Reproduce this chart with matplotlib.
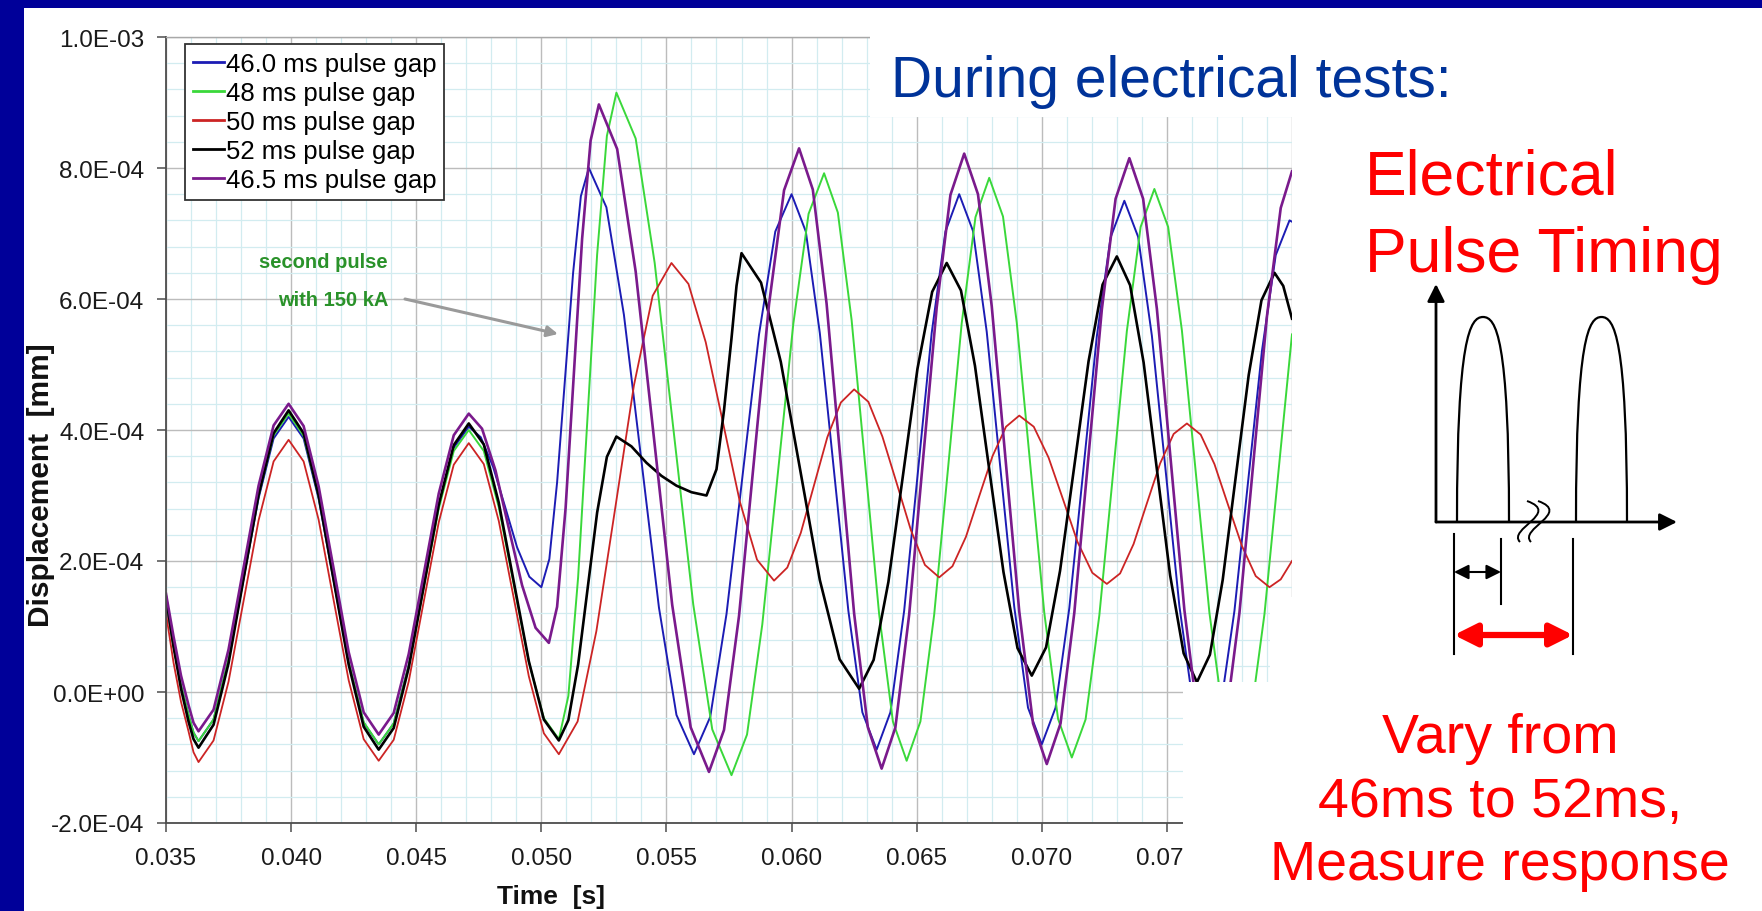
import matplotlib
matplotlib.use("Agg")
import matplotlib.pyplot as plt
from matplotlib.patches import Rectangle, FancyArrowPatch, PathPatch
from matplotlib.path import Path
from matplotlib.ticker import FixedLocator, MultipleLocator
import numpy as np

plt.rcParams['font.family'] = ['Liberation Sans', 'DejaVu Sans']

# ---------------- data (displacement values in units of 1e-4 mm) ----------------
VALUE_UNIT = 1e-4

t_blue = [0.0350, 0.0353, 0.0356, 0.0359, 0.0361, 0.0363,
          0.0369, 0.0375, 0.0381, 0.0387, 0.0393, 0.0399,
          0.0405, 0.0411, 0.0417, 0.0423, 0.0429, 0.0435,
          0.0441, 0.0447, 0.0453, 0.0459, 0.0465, 0.0471,
          0.04758, 0.04807, 0.04855, 0.04903, 0.04952, 0.0500,
          0.05032, 0.05063, 0.05095, 0.05127, 0.05158, 0.0519,
          0.0526, 0.0533, 0.0540, 0.0547, 0.0554, 0.0561,
          0.05675, 0.0574, 0.05805, 0.0587, 0.05935, 0.0600,
          0.06057, 0.06113, 0.0617, 0.06227, 0.06283, 0.0634,
          0.06395, 0.0645, 0.06505, 0.0656, 0.06615, 0.0667,
          0.06725, 0.0678, 0.06835, 0.0689, 0.06945, 0.0700,
          0.07055, 0.0711, 0.07165, 0.0722, 0.07275, 0.0733,
          0.07385, 0.0744, 0.07495, 0.0755, 0.07605, 0.0766,
          0.07715, 0.0777, 0.07825, 0.0788, 0.07935, 0.0799, 0.0800]
v_blue = [1.35, 0.7, 0.1, -0.35, -0.62, -0.75,
          -0.42, 0.49, 1.73, 2.96, 3.87, 4.2,
          3.87, 2.95, 1.7, 0.45, -0.47, -0.8,
          -0.48, 0.41, 1.63, 2.84, 3.73, 4.05,
          3.89, 3.44, 2.83, 2.21, 1.76, 1.6,
          2.03, 3.2, 4.8, 6.4, 7.57, 8.0,
          7.4, 5.76, 3.53, 1.29, -0.35, -0.95,
          -0.38, 1.19, 3.33, 5.46, 7.03, 7.6,
          7.03, 5.48, 3.36, 1.24, -0.31, -0.88,
          -0.31, 1.24, 3.36, 5.48, 7.03, 7.6,
          7.04, 5.5, 3.4, 1.3, -0.24, -0.8,
          -0.24, 1.28, 3.35, 5.43, 6.94, 7.5,
          6.95, 5.44, 3.38, 1.31, -0.2, -0.75,
          -0.22, 1.24, 3.23, 5.21, 6.67, 7.2, 7.18]

t_green = [0.0350, 0.0353, 0.0356, 0.0359, 0.0361, 0.0363,
           0.0369, 0.0375, 0.0381, 0.0387, 0.0393, 0.0399,
           0.0405, 0.0411, 0.0417, 0.0423, 0.0429, 0.0435,
           0.0441, 0.0447, 0.0453, 0.0459, 0.0465, 0.0471,
           0.0477, 0.0483, 0.0489, 0.0495, 0.0501, 0.0507,
           0.05108, 0.05147, 0.05185, 0.05223, 0.05262, 0.0530,
           0.05377, 0.05453, 0.0553, 0.05607, 0.05683, 0.0576,
           0.05822, 0.05883, 0.05945, 0.06007, 0.06068, 0.0613,
           0.06185, 0.0624, 0.06295, 0.0635, 0.06405, 0.0646,
           0.06515, 0.0657, 0.06625, 0.0668, 0.06735, 0.0679,
           0.06845, 0.0690, 0.06955, 0.0701, 0.07065, 0.0712,
           0.07175, 0.0723, 0.07285, 0.0734, 0.07395, 0.0745,
           0.07505, 0.0756, 0.07615, 0.0767, 0.07725, 0.0778,
           0.07835, 0.0789, 0.07945, 0.0800]
v_green = [1.4, 0.7, 0.1, -0.35, -0.62, -0.75,
           -0.42, 0.5, 1.75, 3.0, 3.92, 4.25,
           3.91, 2.99, 1.73, 0.46, -0.46, -0.8,
           -0.48, 0.4, 1.6, 2.8, 3.68, 4.0,
           3.68, 2.82, 1.64, 0.46, -0.4, -0.72,
           -0.06, 1.75, 4.22, 6.68, 8.49, 9.15,
           8.45, 6.55, 3.94, 1.34, -0.57, -1.27,
           -0.65, 1.03, 3.33, 5.62, 7.3, 7.92,
           7.32, 5.68, 3.44, 1.19, -0.45, -1.05,
           -0.45, 1.18, 3.4, 5.63, 7.25, 7.85,
           7.26, 5.64, 3.43, 1.21, -0.41, -1.0,
           -0.42, 1.17, 3.34, 5.51, 7.1, 7.68,
           7.1, 5.52, 3.37, 1.21, -0.37, -0.95,
           -0.38, 1.19, 3.33, 5.46]

t_red = [0.0350, 0.0353, 0.0356, 0.0359, 0.0361, 0.0363,
         0.0369, 0.0375, 0.0381, 0.0387, 0.0393, 0.0399,
         0.0405, 0.0411, 0.0417, 0.0423, 0.0429, 0.0435,
         0.0441, 0.0447, 0.0453, 0.0459, 0.0465, 0.0471,
         0.0477, 0.0483, 0.0489, 0.0495, 0.0501, 0.0507,
         0.05145, 0.0522, 0.05295, 0.0537, 0.05445, 0.0552,
         0.05588, 0.05657, 0.05725, 0.05793, 0.05862, 0.0593,
         0.05983, 0.06037, 0.0609, 0.06143, 0.06197, 0.0625,
         0.06307, 0.06363, 0.0642, 0.06477, 0.06533, 0.0659,
         0.06643, 0.06697, 0.0675, 0.06803, 0.06857, 0.0691,
         0.06968, 0.07027, 0.07085, 0.07143, 0.07202, 0.0726,
         0.07313, 0.07367, 0.0742, 0.07473, 0.07527, 0.0758,
         0.07635, 0.0769, 0.07745, 0.0780, 0.07855, 0.0791,
         0.07955, 0.0800]
v_red = [1.2, 0.45, -0.15, -0.6, -0.92, -1.07,
         -0.74, 0.16, 1.39, 2.62, 3.52, 3.85,
         3.52, 2.63, 1.4, 0.18, -0.72, -1.05,
         -0.73, 0.16, 1.38, 2.59, 3.47, 3.8,
         3.48, 2.61, 1.43, 0.24, -0.63, -0.95,
         -0.45, 0.93, 2.8, 4.68, 6.05, 6.55,
         6.23, 5.34, 4.13, 2.91, 2.02, 1.7,
         1.9, 2.43, 3.16, 3.89, 4.42, 4.62,
         4.43, 3.9, 3.19, 2.47, 1.94, 1.75,
         1.92, 2.37, 2.99, 3.6, 4.05, 4.22,
         4.05, 3.58, 2.94, 2.29, 1.82, 1.65,
         1.81, 2.26, 2.88, 3.49, 3.94, 4.1,
         3.93, 3.48, 2.85, 2.23, 1.77, 1.6,
         1.72, 2.0]

t_black = [0.0350, 0.0353, 0.0356, 0.0359, 0.0361, 0.0363,
           0.0369, 0.0375, 0.0381, 0.0387, 0.0393, 0.0399,
           0.0405, 0.0411, 0.0417, 0.0423, 0.0429, 0.0435,
           0.0441, 0.0447, 0.0453, 0.0459, 0.0465, 0.0471,
           0.0477, 0.0483, 0.0489, 0.0495, 0.0501, 0.0507,
           0.05108, 0.05147, 0.05185, 0.05223, 0.05262, 0.0530,
           0.0536, 0.0542, 0.0548, 0.0554, 0.0560, 0.0566, 0.0570, 0.0573, 0.0576, 0.0578, 0.0580,
           0.05878, 0.05957, 0.06035, 0.06113, 0.06192, 0.0627,
           0.06328, 0.06387, 0.06445, 0.06503, 0.06562, 0.0662,
           0.06677, 0.06733, 0.0679, 0.06847, 0.06903, 0.0696,
           0.07017, 0.07073, 0.0713, 0.07187, 0.07243, 0.0730,
           0.07353, 0.07407, 0.0746, 0.07513, 0.07567, 0.0762,
           0.07672, 0.07723, 0.07775, 0.07827, 0.07878, 0.0793,
           0.07965, 0.0800]
v_black = [1.45, 0.7, 0.05, -0.45, -0.72, -0.85,
           -0.5, 0.44, 1.73, 3.01, 3.95, 4.3,
           3.95, 3.0, 1.71, 0.42, -0.53, -0.88,
           -0.55, 0.37, 1.61, 2.86, 3.77, 4.1,
           3.78, 2.89, 1.68, 0.47, -0.42, -0.74,
           -0.43, 0.42, 1.58, 2.74, 3.59, 3.9,
           3.75, 3.5, 3.3, 3.15, 3.05, 3.0, 3.4, 4.3, 5.4, 6.2, 6.7,
           6.25, 5.04, 3.38, 1.71, 0.5, 0.05,
           0.49, 1.68, 3.3, 4.93, 6.11, 6.55,
           6.13, 4.98, 3.4, 1.83, 0.67, 0.25,
           0.68, 1.85, 3.45, 5.05, 6.22, 6.65,
           6.21, 5.03, 3.4, 1.78, 0.59, 0.15,
           0.57, 1.71, 3.28, 4.84, 5.98, 6.4,
           6.2, 5.7]

t_purple = [0.0350, 0.0353, 0.0356, 0.0359, 0.0361, 0.0363,
            0.0369, 0.0375, 0.0381, 0.0387, 0.0393, 0.0399,
            0.0405, 0.0411, 0.0417, 0.0423, 0.0429, 0.0435,
            0.0441, 0.0447, 0.0453, 0.0459, 0.0465, 0.0471,
            0.04763, 0.04817, 0.0487, 0.04923, 0.04977, 0.0503,
            0.05063, 0.05097, 0.0513, 0.05163, 0.05197, 0.0523,
            0.05303, 0.05377, 0.0545, 0.05523, 0.05597, 0.0567,
            0.0573, 0.0579, 0.0585, 0.0591, 0.0597, 0.0603,
            0.06085, 0.0614, 0.06195, 0.0625, 0.06305, 0.0636,
            0.06415, 0.0647, 0.06525, 0.0658, 0.06635, 0.0669,
            0.06745, 0.0680, 0.06855, 0.0691, 0.06965, 0.0702,
            0.07075, 0.0713, 0.07185, 0.0724, 0.07295, 0.0735,
            0.07405, 0.0746, 0.07515, 0.0757, 0.07625, 0.0768,
            0.07735, 0.0779, 0.07845, 0.0790, 0.07955, 0.0800]
v_purple = [1.5, 0.85, 0.25, -0.2, -0.47, -0.6,
            -0.27, 0.65, 1.9, 3.15, 4.07, 4.4,
            4.06, 3.14, 1.88, 0.61, -0.31, -0.65,
            -0.32, 0.58, 1.8, 3.03, 3.92, 4.25,
            4.02, 3.38, 2.5, 1.63, 0.98, 0.75,
            1.3, 2.81, 4.86, 6.92, 8.42, 8.97,
            8.29, 6.42, 3.88, 1.33, -0.54, -1.22,
            -0.58, 1.16, 3.54, 5.92, 7.66, 8.3,
            7.67, 5.93, 3.57, 1.2, -0.54, -1.17,
            -0.54, 1.18, 3.53, 5.87, 7.59, 8.22,
            7.6, 5.89, 3.56, 1.23, -0.48, -1.1,
            -0.48, 1.21, 3.53, 5.84, 7.53, 8.15,
            7.53, 5.85, 3.55, 1.25, -0.43, -1.05,
            -0.44, 1.21, 3.48, 5.74, 7.39, 7.95]

series_labels = ["46.0 ms pulse gap", "48 ms pulse gap", "50 ms pulse gap",
                 "52 ms pulse gap", "46.5 ms pulse gap"]
series_colors = ["#1c1cb4", "#3ad83a", "#cc2424", "#000000", "#7a1a8c"]

x_ticks = [0.035, 0.040, 0.045, 0.050, 0.055, 0.060, 0.065, 0.070, 0.075, 0.080]
x_tick_labels = ["0.035", "0.040", "0.045", "0.050", "0.055", "0.060", "0.065", "0.070", "0.075", ""]
y_ticks = [-2e-4, 0.0, 2e-4, 4e-4, 6e-4, 8e-4, 1e-3]
y_tick_labels = ["-2.0E-04", "0.0E+00", "2.0E-04", "4.0E-04", "6.0E-04", "8.0E-04", "1.0E-03"]

# ---------------- figure ----------------
W, H = 1762, 912
fig = plt.figure(figsize=(W / 100, H / 100), dpi=100)
fig.patch.set_facecolor("white")

AX_L, AX_R, AX_T, AX_B = 166, 1292, 38, 824
ax = fig.add_axes([AX_L / W, 1 - AX_B / H, (AX_R - AX_L) / W, (AX_B - AX_T) / H])

series = [(t_blue, v_blue), (t_green, v_green), (t_red, v_red), (t_black, v_black), (t_purple, v_purple)]
widths = [1.4, 1.4, 1.3, 1.9, 1.9]
for (t, v), lab, col, lw in zip(series, series_labels, series_colors, widths):
    ax.plot(t, np.array(v) * VALUE_UNIT, color=col, lw=lw, label=lab, solid_joinstyle="round")

ax.set_xlim(0.035, 0.080)
ax.set_ylim(-2e-4, 1e-3)
ax.xaxis.set_major_locator(FixedLocator(x_ticks))
ax.set_xticklabels(x_tick_labels)
ax.yaxis.set_major_locator(FixedLocator(y_ticks))
ax.set_yticklabels(y_tick_labels)
ax.xaxis.set_minor_locator(MultipleLocator(0.001))
ax.yaxis.set_minor_locator(MultipleLocator(4e-5))
ax.set_axisbelow(True)
ax.grid(True, which="minor", color="#d2ecf0", lw=0.9)
ax.grid(True, which="major", color="#bcbcbc", lw=1.0)
ax.tick_params(which="major", direction="out", length=6.5, width=1.1, color="#4d4d4d",
               labelsize=17.5, labelcolor="#1a1a1a")
ax.tick_params(axis="x", pad=11)
ax.tick_params(axis="y", pad=9)
ax.tick_params(which="minor", length=0)
for s in ["left", "bottom"]:
    ax.spines[s].set_color("#4d4d4d")
    ax.spines[s].set_linewidth(1.3)
ax.spines["top"].set_color("#a8a8a8")
ax.spines["top"].set_linewidth(1.0)
ax.spines["right"].set_visible(False)

leg = ax.legend(loc="upper left", bbox_to_anchor=(185 / W, 1 - 45 / H), bbox_transform=fig.transFigure,
                borderaxespad=0, fontsize=18.5, frameon=True, fancybox=False, framealpha=1,
                edgecolor="#333333", handlelength=1.2, handletextpad=0.1, labelspacing=0.2,
                borderpad=0.3)
leg.get_frame().set_linewidth(1.3)
for h in leg.get_lines():
    h.set_linewidth(2.0)

# ---------------- overlay in pixel coordinates ----------------
ov = fig.add_axes([0, 0, 1, 1])
ov.set_xlim(0, W)
ov.set_ylim(H, 0)
ov.axis("off")
ov.patch.set_visible(False)

# white slide boxes that cover parts of the chart picture
white_boxes = [(870, 8, W - 870, 110), (1270, 598, W - 1270, 85), (1183, 683, W - 1183, H - 683)]
for (x, y, w, h) in white_boxes:
    ov.add_patch(Rectangle((x, y), w, h, facecolor="white", edgecolor="none"))

# slide border
NAVY = "#000099"
ov.add_patch(Rectangle((0, 0), 24, H, facecolor=NAVY, edgecolor="none"))
ov.add_patch(Rectangle((0, 0), W, 9, facecolor=NAVY, edgecolor="none"))

# axis titles
ov.text(41, 485, "Displacement  [mm]", rotation=90, ha="center", va="center",
        fontsize=21.5, fontweight="bold", color="#111111")
ov.text(551, 897, "Time  [s]", ha="center", va="center", fontsize=19, fontweight="bold", color="#111111")

# annotation
GREEN_TXT = "#2a922a"
ov.text(388, 268, "second pulse", fontsize=14.5, fontweight="bold", color=GREEN_TXT,
        va="baseline", ha="right")
ov.text(388, 306, "with 150 kA", fontsize=14.5, fontweight="bold", color=GREEN_TXT,
        va="baseline", ha="right")
ov.add_patch(FancyArrowPatch((405, 300), (558, 335), arrowstyle="-|>", mutation_scale=16,
                             lw=2.2, color="#9a9a9a", shrinkA=0, shrinkB=0))

# slide texts
ov.text(891, 97, "During electrical tests:", fontsize=41, color="#003399", va="baseline")
ov.text(1365, 195, "Electrical", fontsize=45, color="#ff0000", va="baseline")
ov.text(1365, 272, "Pulse Timing", fontsize=45, color="#ff0000", va="baseline")
vary_lines = ["Vary from", "46ms to 52ms,", "Measure response"]
vary_baselines = [753, 817, 880]
for s, yb in zip(vary_lines, vary_baselines):
    ov.text(1500, yb, s, fontsize=40, color="#ff0000", ha="center", va="baseline")

# pulse timing sketch
DK = "black"
ORIGIN = (1436, 523)
Y_TIP = 285
X_TIP = 1677
ov.add_patch(FancyArrowPatch(ORIGIN, (ORIGIN[0], Y_TIP), arrowstyle="-|>", mutation_scale=26,
                             lw=2.0, color=DK, shrinkA=0, shrinkB=0))
ov.add_patch(FancyArrowPatch(ORIGIN, (X_TIP, ORIGIN[1]), arrowstyle="-|>", mutation_scale=26,
                             lw=2.0, color=DK, shrinkA=0, shrinkB=0))

PULSE_SPANS = [(1457, 1509), (1576, 1627)]
PULSE_TOP = 318
for (x0, x1) in PULSE_SPANS:
    w = x1 - x0
    xc = (x0 + x1) / 2
    yb = ORIGIN[1]
    hgt = yb - PULSE_TOP
    verts = [(x0, yb), (x0, yb - 0.9 * hgt), (xc - 0.25 * w, PULSE_TOP), (xc, PULSE_TOP),
             (xc + 0.25 * w, PULSE_TOP), (x1, yb - 0.9 * hgt), (x1, yb)]
    codes = [Path.MOVETO] + [Path.CURVE4] * 6
    ov.add_patch(PathPatch(Path(verts, codes), facecolor="none", edgecolor=DK, lw=1.6))

# break mark on the time axis
BREAK_STROKES = [[(1527, 502), (1561, 514), (1507, 530), (1520, 543)],
                 [(1538, 502), (1572, 514), (1518, 530), (1531, 543)]]
for pts in BREAK_STROKES:
    ov.add_patch(PathPatch(Path(pts, [Path.MOVETO, Path.CURVE4, Path.CURVE4, Path.CURVE4]),
                           facecolor="none", edgecolor=DK, lw=1.4))

DIM_LINES = [(1454, 535, 655), (1501, 540, 605), (1573, 540, 655)]
for (x, y0, y1) in DIM_LINES:
    ov.plot([x, x], [y0, y1], color=DK, lw=1.5)
ov.add_patch(FancyArrowPatch((1454, 573), (1501, 573), arrowstyle="<|-|>", mutation_scale=22,
                             lw=1.5, color=DK, shrinkA=0, shrinkB=0))
ov.add_patch(FancyArrowPatch((1454, 636), (1573, 636), arrowstyle="<|-|>", mutation_scale=34,
                             lw=4.5, color="#ff0000", shrinkA=0, shrinkB=0))

fig.savefig("out.png", dpi=100, facecolor="white")
